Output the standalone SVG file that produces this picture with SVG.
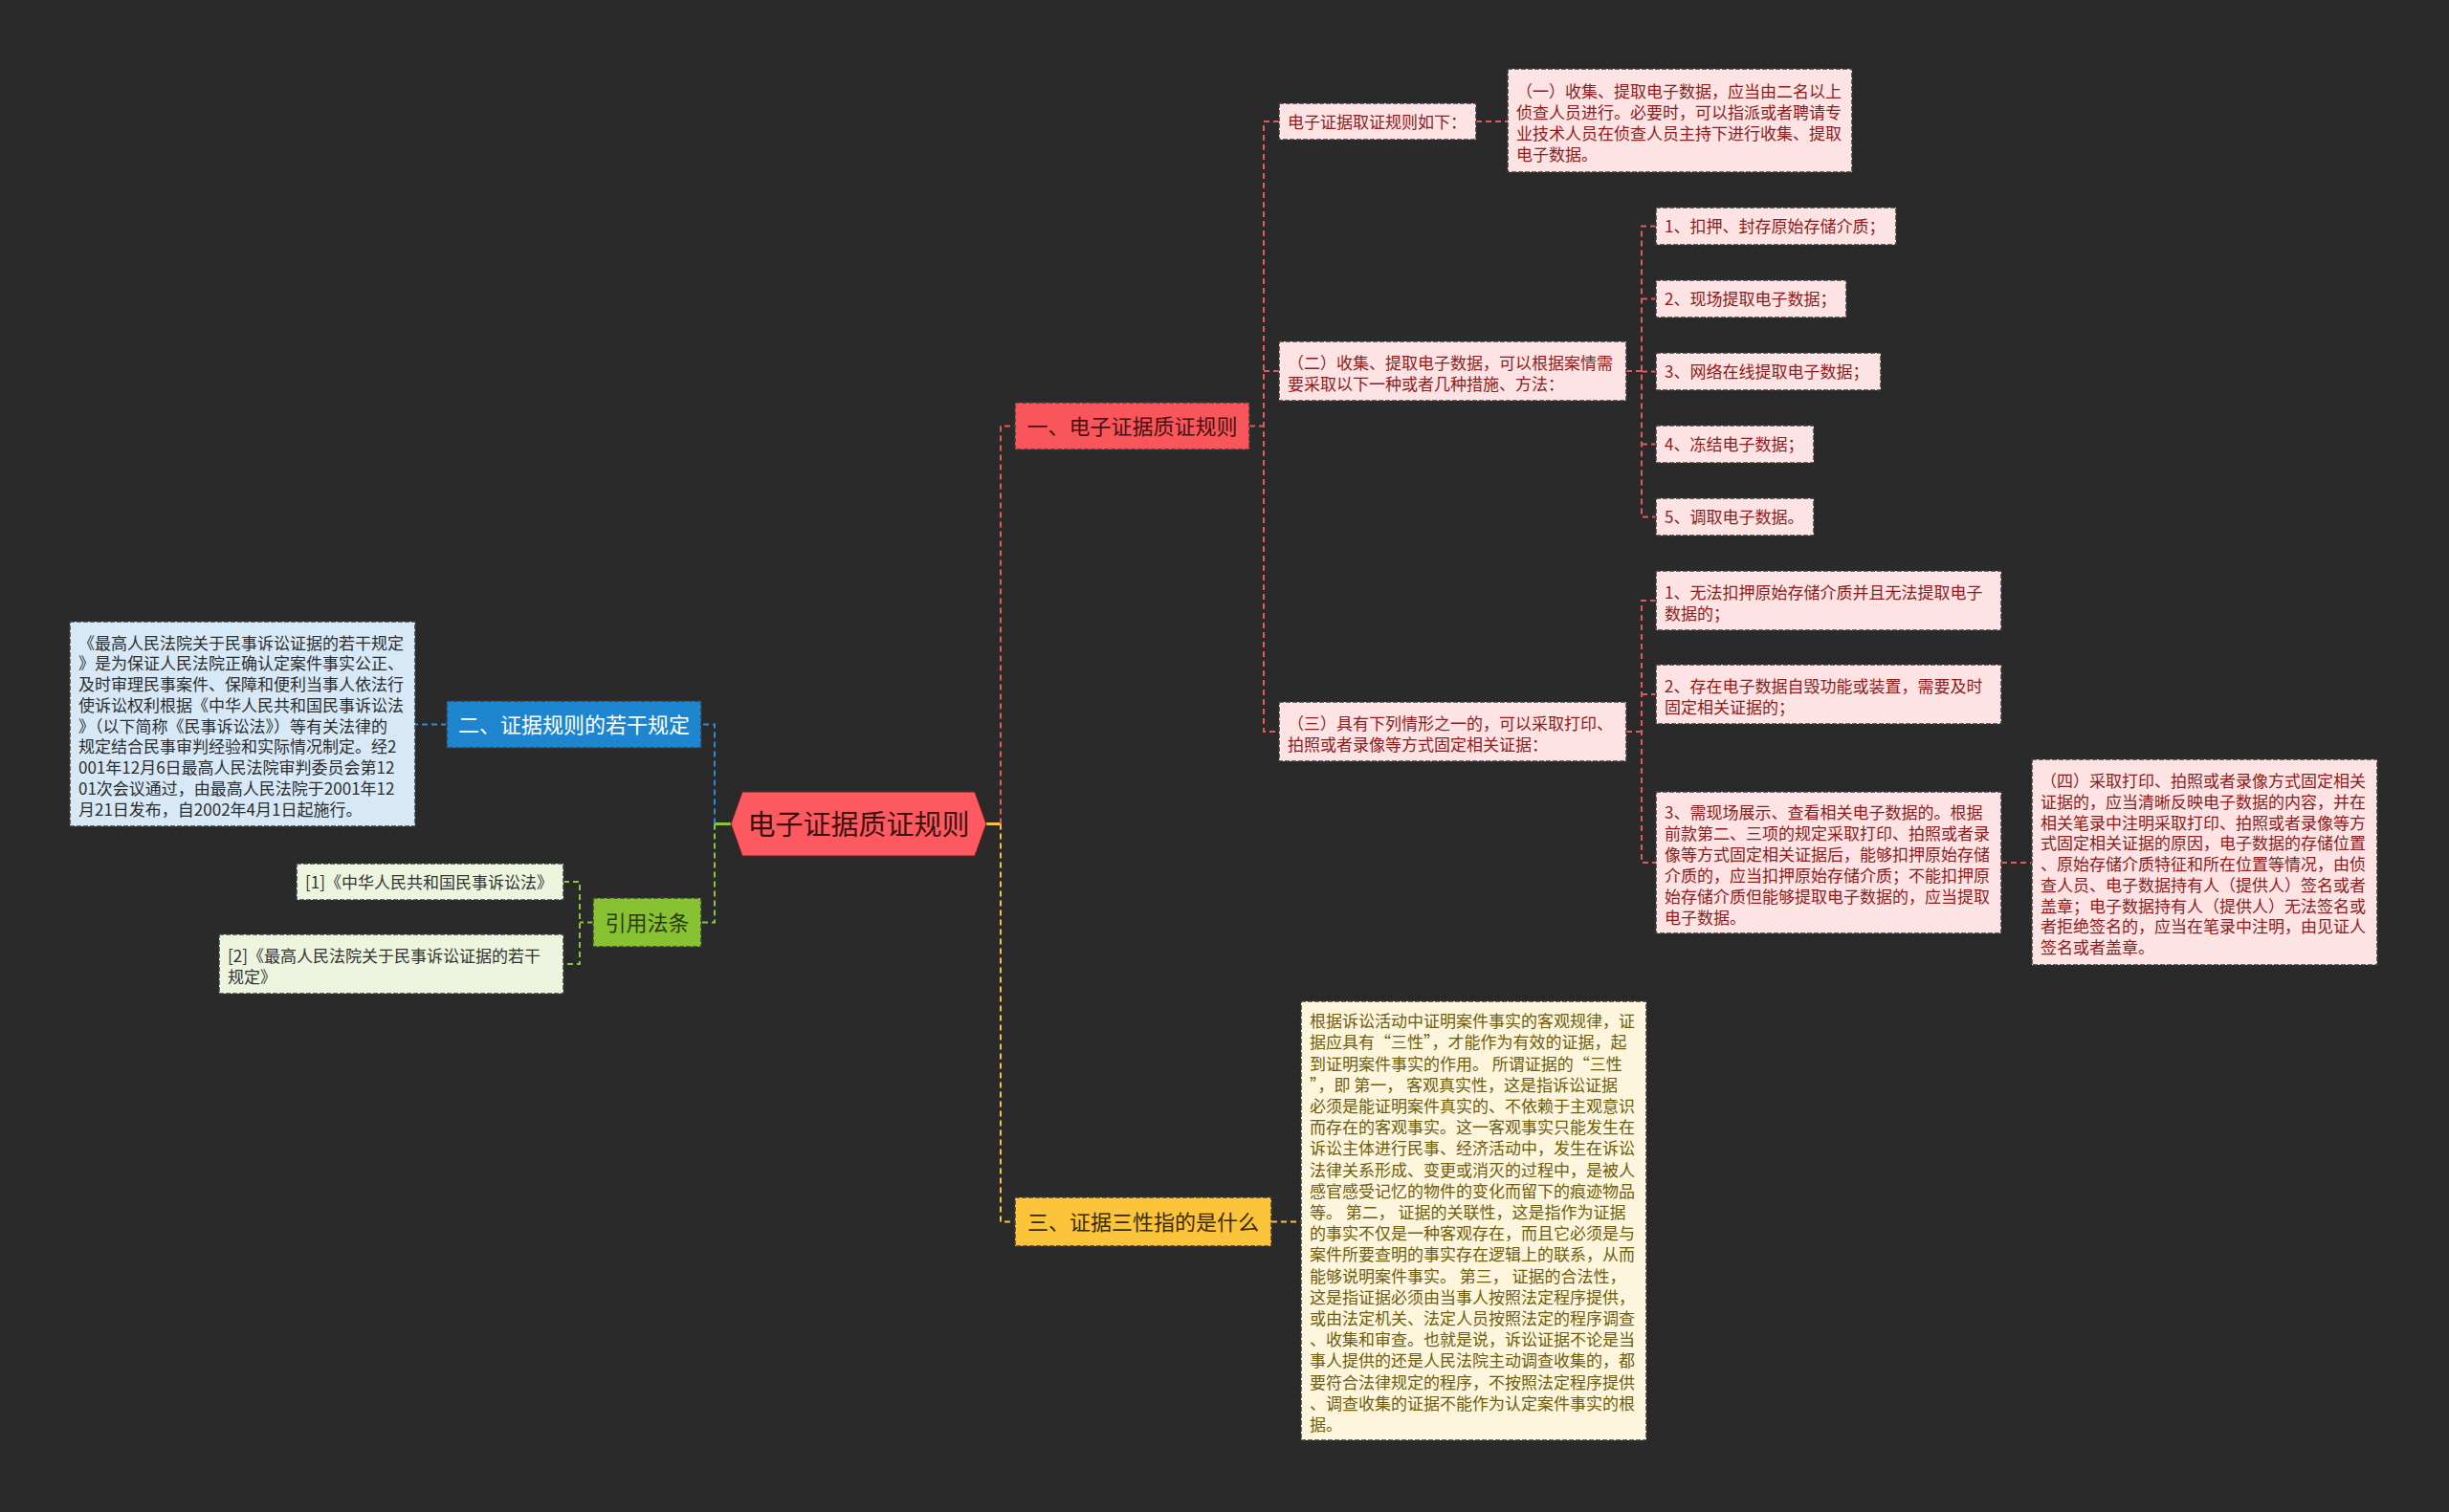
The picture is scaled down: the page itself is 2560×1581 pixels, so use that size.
<svg xmlns="http://www.w3.org/2000/svg" width="2560" height="1581" viewBox="0 0 2560 1581">
<style>
text{font-family:"Noto Sans CJK SC","Microsoft YaHei",sans-serif;white-space:pre}
.c{fill:none;stroke-width:2;stroke-dasharray:6 4}
.cr{stroke:#e05a5e}.cb{stroke:#2d8ad4}.cg{stroke:#8cc43c}.cy{stroke:#f5c342}
.bd{stroke:#3a3a3a;stroke-width:1.5;stroke-dasharray:5 2}
.pk{fill:#fde3e3}.tpk{fill:#8e1c1c;font-size:17px}
.lb{fill:#d7e9f7}.tlb{fill:#2d2d2d;font-size:17px}
.lg{fill:#edf5de}.tlg{fill:#333;font-size:17px}
.ly{fill:#fef6dc}.tly{fill:#6f5c0d;font-size:17px}
.l1{font-size:22px;text-anchor:middle}
</style>
<rect width="2560" height="1581" fill="#2a2a2a"/>
<g id="connectors">
<line x1="1031" y1="861.5" x2="1046" y2="861.5" stroke="#f5c342" stroke-width="3"/>
<line x1="764" y1="861.5" x2="747" y2="861.5" stroke="#8cc43c" stroke-width="3"/>
<path class="c cr" d="M1046,861.5V445.5H1061"/>
<path class="c cy" d="M1046,861.5V1277.5H1061"/>
<path class="c cb" d="M747,861.5V757.5H733"/>
<path class="c cg" d="M747,861.5V964.5H733"/>
<path class="c cr" d="M1306,445.5H1321M1337,127H1321V765H1337M1321,388H1337"/>
<path class="c cr" d="M1543,127H1576"/>
<path class="c cr" d="M1700,388H1716M1731,236.5H1716V540.5H1731M1716,312.5H1731M1716,388.5H1731M1716,464.5H1731"/>
<path class="c cr" d="M1700,765H1716M1731,628H1716V902H1731M1716,726H1731"/>
<path class="c cr" d="M2092,902H2124"/>
<path class="c cb" d="M467,757.5H434"/>
<path class="c cg" d="M620,964.5H606M589,922H606V1008H589"/>
<path class="c cy" d="M1329,1277.5H1360"/>
</g>
<g id="center">
<polygon points="764,861.5 776,828 1019,828 1031,861.5 1019,895 776,895" fill="#fc5a60" stroke="#6e1a1a" stroke-width="1"/>
<text x="897.5" y="872.5" font-size="29" text-anchor="middle" fill="#3d1010">电子证据质证规则</text>
</g>
<g id="n-a">
<rect x="1061" y="421" width="245" height="49" fill="#f9565c" class="bd"/>
<text class="l1" x="1183.5" y="454" fill="#4a1010">一、电子证据质证规则</text>
</g>
<g id="n-b">
<rect x="467" y="733" width="266" height="49" fill="#1e86cf" class="bd"/>
<text class="l1" x="600" y="766" fill="#ffffff">二、证据规则的若干规定</text>
</g>
<g id="n-c">
<rect x="620" y="939" width="113" height="51" fill="#86c232" class="bd"/>
<text class="l1" x="676.5" y="973" fill="#2d3a12">引用法条</text>
</g>
<g id="n-d">
<rect x="1061" y="1252" width="268" height="51" fill="#fcc43a" class="bd"/>
<text class="l1" x="1195" y="1286" fill="#3a2a00">三、证据三性指的是什么</text>
</g>
<g id="n-a1">
<rect x="1337" y="108" width="206" height="38" class="pk bd"/>
<text class="tpk" x="1346" y="133.5">电子证据取证规则如下：</text>
</g>
<g id="n-a1a">
<rect x="1576" y="72" width="360" height="108" class="pk bd"/>
<text class="tpk" y="101.5"><tspan x="1585">（一）收集、提取电子数据，应当由二名以上</tspan><tspan x="1585" dy="22">侦查人员进行。必要时，可以指派或者聘请专</tspan><tspan x="1585" dy="22">业技术人员在侦查人员主持下进行收集、提取</tspan><tspan x="1585" dy="22">电子数据。</tspan></text>
</g>
<g id="n-a2">
<rect x="1337" y="357" width="363" height="62" class="pk bd"/>
<text class="tpk" y="385.5"><tspan x="1346">（二）收集、提取电子数据，可以根据案情需</tspan><tspan x="1346" dy="22">要采取以下一种或者几种措施、方法：</tspan></text>
</g>
<g id="n-a2-1">
<rect x="1731" y="217" width="251" height="39" class="pk bd"/>
<text class="tpk" x="1740" y="243">1、扣押、封存原始存储介质；</text>
</g>
<g id="n-a2-2">
<rect x="1731" y="293" width="199" height="39" class="pk bd"/>
<text class="tpk" x="1740" y="319">2、现场提取电子数据；</text>
</g>
<g id="n-a2-3">
<rect x="1731" y="369" width="235" height="39" class="pk bd"/>
<text class="tpk" x="1740" y="395">3、网络在线提取电子数据；</text>
</g>
<g id="n-a2-4">
<rect x="1731" y="445" width="165" height="39" class="pk bd"/>
<text class="tpk" x="1740" y="471">4、冻结电子数据；</text>
</g>
<g id="n-a2-5">
<rect x="1731" y="521" width="165" height="39" class="pk bd"/>
<text class="tpk" x="1740" y="547">5、调取电子数据。</text>
</g>
<g id="n-a3">
<rect x="1337" y="734" width="363" height="62" class="pk bd"/>
<text class="tpk" y="762.5"><tspan x="1346">（三）具有下列情形之一的，可以采取打印、</tspan><tspan x="1346" dy="22">拍照或者录像等方式固定相关证据：</tspan></text>
</g>
<g id="n-a3-1">
<rect x="1731" y="597" width="361" height="62" class="pk bd"/>
<text class="tpk" y="625.5"><tspan x="1740">1、无法扣押原始存储介质并且无法提取电子</tspan><tspan x="1740" dy="22">数据的；</tspan></text>
</g>
<g id="n-a3-2">
<rect x="1731" y="695" width="361" height="62" class="pk bd"/>
<text class="tpk" y="723.5"><tspan x="1740">2、存在电子数据自毁功能或装置，需要及时</tspan><tspan x="1740" dy="22">固定相关证据的；</tspan></text>
</g>
<g id="n-a3-3">
<rect x="1731" y="828" width="361" height="148" class="pk bd"/>
<text class="tpk" y="855.5"><tspan x="1740">3、需现场展示、查看相关电子数据的。根据</tspan><tspan x="1740" dy="22">前款第二、三项的规定采取打印、拍照或者录</tspan><tspan x="1740" dy="22">像等方式固定相关证据后，能够扣押原始存储</tspan><tspan x="1740" dy="22">介质的，应当扣押原始存储介质；不能扣押原</tspan><tspan x="1740" dy="22">始存储介质但能够提取电子数据的，应当提取</tspan><tspan x="1740" dy="22">电子数据。</tspan></text>
</g>
<g id="n-a3-3a">
<rect x="2124" y="794" width="361" height="215" class="pk bd"/>
<text class="tpk" y="823"><tspan x="2133">（四）采取打印、拍照或者录像方式固定相关</tspan><tspan x="2133" dy="21.75">证据的，应当清晰反映电子数据的内容，并在</tspan><tspan x="2133" dy="21.75">相关笔录中注明采取打印、拍照或者录像等方</tspan><tspan x="2133" dy="21.75">式固定相关证据的原因，电子数据的存储位置</tspan><tspan x="2133" dy="21.75">、原始存储介质特征和所在位置等情况，由侦</tspan><tspan x="2133" dy="21.75">查人员、电子数据持有人（提供人）签名或者</tspan><tspan x="2133" dy="21.75">盖章；电子数据持有人（提供人）无法签名或</tspan><tspan x="2133" dy="21.75">者拒绝签名的，应当在笔录中注明，由见证人</tspan><tspan x="2133" dy="21.75">签名或者盖章。</tspan></text>
</g>
<g id="n-b1">
<rect x="73" y="650" width="361" height="214" class="lb bd"/>
<text class="tlb" y="678.5"><tspan x="82">《最高人民法院关于民事诉讼证据的若干规定</tspan><tspan x="82" dy="21.75">》是为保证人民法院正确认定案件事实公正、</tspan><tspan x="82" dy="21.75">及时审理民事案件、保障和便利当事人依法行</tspan><tspan x="82" dy="21.75">使诉讼权利根据《中华人民共和国民事诉讼法</tspan><tspan x="82" dy="21.75">》（以下简称《民事诉讼法》）等有关法律的</tspan><tspan x="82" dy="21.75">规定结合民事审判经验和实际情况制定。经2</tspan><tspan x="82" dy="21.75">001年12月6日最高人民法院审判委员会第12</tspan><tspan x="82" dy="21.75">01次会议通过，由最高人民法院于2001年12</tspan><tspan x="82" dy="21.75">月21日发布，自2002年4月1日起施行。</tspan></text>
</g>
<g id="n-c1">
<rect x="310" y="903" width="279" height="38" class="lg bd"/>
<text class="tlg" x="319" y="928.5">[1]《中华人民共和国民事诉讼法》</text>
</g>
<g id="n-c2">
<rect x="229" y="977" width="360" height="62" class="lg bd"/>
<text class="tlg" y="1005.5"><tspan x="238">[2]《最高人民法院关于民事诉讼证据的若干</tspan><tspan x="238" dy="22">规定》</tspan></text>
</g>
<g id="n-d1">
<rect x="1360" y="1047" width="361" height="459" class="ly bd"/>
<text class="tly" y="1074.1"><tspan x="1369">根据诉讼活动中证明案件事实的客观规律，证</tspan><tspan x="1369" dy="22.2">据应具有“三性”，才能作为有效的证据，起</tspan><tspan x="1369" dy="22.2">到证明案件事实的作用。 所谓证据的“三性</tspan><tspan x="1369" dy="22.2">”，即 第一， 客观真实性，这是指诉讼证据</tspan><tspan x="1369" dy="22.2">必须是能证明案件真实的、不依赖于主观意识</tspan><tspan x="1369" dy="22.2">而存在的客观事实。这一客观事实只能发生在</tspan><tspan x="1369" dy="22.2">诉讼主体进行民事、经济活动中，发生在诉讼</tspan><tspan x="1369" dy="22.2">法律关系形成、变更或消灭的过程中，是被人</tspan><tspan x="1369" dy="22.2">感官感受记忆的物件的变化而留下的痕迹物品</tspan><tspan x="1369" dy="22.2">等。 第二， 证据的关联性，这是指作为证据</tspan><tspan x="1369" dy="22.2">的事实不仅是一种客观存在，而且它必须是与</tspan><tspan x="1369" dy="22.2">案件所要查明的事实存在逻辑上的联系，从而</tspan><tspan x="1369" dy="22.2">能够说明案件事实。 第三， 证据的合法性，</tspan><tspan x="1369" dy="22.2">这是指证据必须由当事人按照法定程序提供，</tspan><tspan x="1369" dy="22.2">或由法定机关、法定人员按照法定的程序调查</tspan><tspan x="1369" dy="22.2">、收集和审查。也就是说，诉讼证据不论是当</tspan><tspan x="1369" dy="22.2">事人提供的还是人民法院主动调查收集的，都</tspan><tspan x="1369" dy="22.2">要符合法律规定的程序，不按照法定程序提供</tspan><tspan x="1369" dy="22.2">、调查收集的证据不能作为认定案件事实的根</tspan><tspan x="1369" dy="22.2">据。</tspan></text>
</g>
</svg>
